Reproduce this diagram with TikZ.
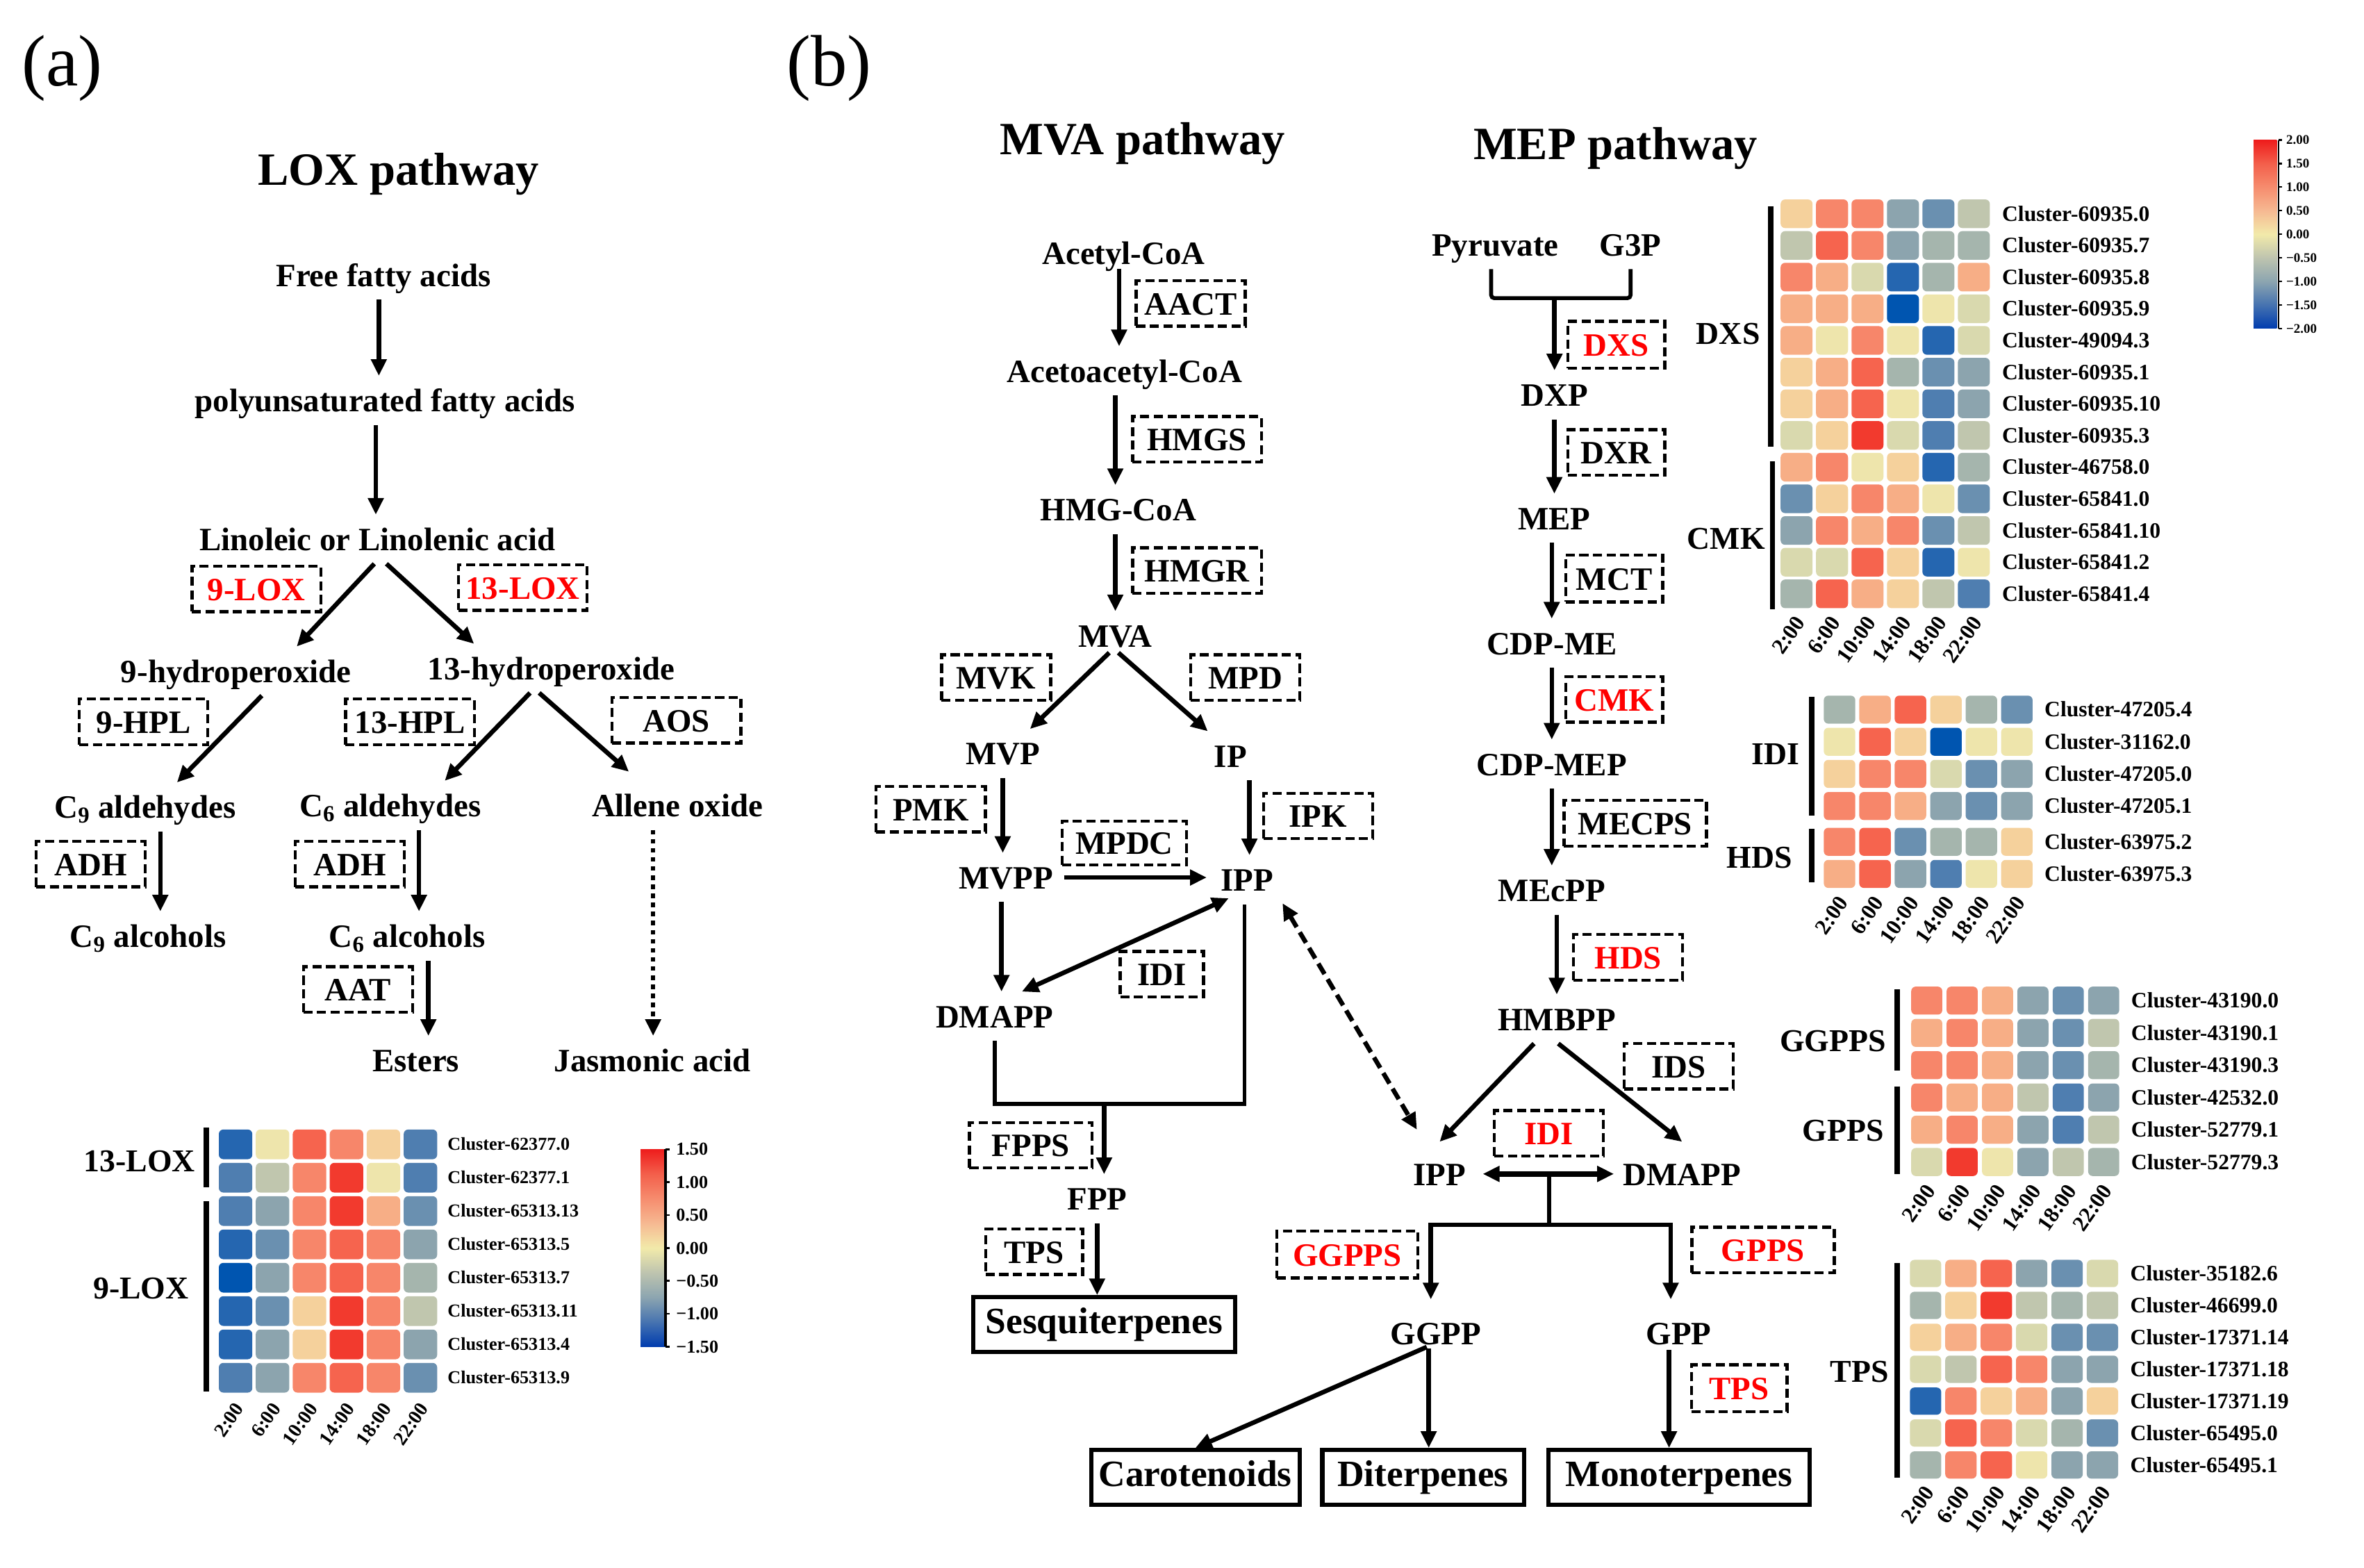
\documentclass[tikz,border=0pt]{standalone}
\usepackage{fontspec}
\setmainfont{Liberation Serif}
\usetikzlibrary{arrows.meta}

\definecolor{hm0}{HTML}{0055B0}
\definecolor{hm1}{HTML}{2566B0}
\definecolor{hm2}{HTML}{4F7EB0}
\definecolor{hm3}{HTML}{6A90B0}
\definecolor{hm4}{HTML}{8CA4AE}
\definecolor{hm5}{HTML}{A5B5AD}
\definecolor{hm6}{HTML}{C0C6AE}
\definecolor{hm7}{HTML}{D9D9AE}
\definecolor{hm8}{HTML}{EEE5AC}
\definecolor{hm9}{HTML}{F5D19C}
\definecolor{hm10}{HTML}{F7AE86}
\definecolor{hm11}{HTML}{F7866A}
\definecolor{hm12}{HTML}{F6644E}
\definecolor{hm13}{HTML}{F23A2E}

\definecolor{barA}{HTML}{003CAF}
\definecolor{barB}{HTML}{4673B0}
\definecolor{barC}{HTML}{8CA5B0}
\definecolor{barD}{HTML}{BEC4AF}
\definecolor{barE}{HTML}{F2EAAA}
\definecolor{barF}{HTML}{F6B992}
\definecolor{barG}{HTML}{F68C6E}
\definecolor{barH}{HTML}{F35F4B}
\definecolor{barI}{HTML}{EE1C1C}
\pgfdeclareverticalshading{hmbar}{100bp}{color(0bp)=(barA); color(25bp)=(barA);
  color(31.25bp)=(barB); color(37.5bp)=(barC); color(43.75bp)=(barD); color(50bp)=(barE);
  color(56.25bp)=(barF); color(62.5bp)=(barG); color(68.75bp)=(barH); color(75bp)=(barI);
  color(100bp)=(barI)}

\tikzset{
  lbl/.style={font=\fontsize{21.5}{24}\selectfont\bfseries, inner xsep=1pt, inner ysep=8.5pt,
    text height=15pt, text depth=0pt},
  enz/.style={draw, line width=2pt, dash pattern=on 6pt off 3pt, inner sep=0pt,
    font=\fontsize{21.5}{24}\selectfont\bfseries, minimum height=30pt,
    text height=15pt, text depth=0pt},
  enzred/.style={enz, text=red},
  prod/.style={draw, line width=2.8pt, inner sep=0pt, minimum height=36pt,
    font=\fontsize{24.5}{28}\selectfont\bfseries, text height=12pt, text depth=0pt},
  ttl/.style={font=\fontsize{30.5}{34}\selectfont\bfseries, text height=20pt, text depth=0pt},
  panel/.style={font=\fontsize{48}{52}\selectfont, text height=23pt, text depth=0pt},
  arr/.style={line width=3pt, -{Triangle[length=11pt,width=10pt]}},
  arrtwo/.style={line width=3pt, {Triangle[length=11pt,width=10pt]}-{Triangle[length=11pt,width=10pt]}},
  ln/.style={line width=2.6pt},
  grp/.style={font=\fontsize{21}{24}\selectfont\bfseries, inner sep=0pt, text height=14pt, text depth=0pt},
  grpbar/.style={line width=3.5pt},
  rowlbl/.style={font=\fontsize{14.5}{16}\selectfont\bfseries, inner sep=0pt, anchor=west,
    text height=9.6pt, text depth=0pt},
  collbl/.style={font=\fontsize{14.5}{16}\selectfont\bfseries, inner sep=0pt, anchor=east, rotate=55},
  barlbl/.style={font=\fontsize{8.7}{10}\selectfont\bfseries, inner sep=0pt, anchor=west,
    text height=5.8pt, text depth=0pt},
}

\begin{document}
\begin{tikzpicture}[x=1pt,y=-1pt]
\useasboundingbox (0,0) rectangle (1560,1034.2);

\node[panel] (pa) at (41,45) {(a)};
\node[panel] (pb) at (547,45) {(b)};

% LOX pathway
\node[ttl] (loxttl) at (263,112) {LOX pathway};
\node[lbl] (ffa) at (253,181.4) {Free fatty acids};
\node[lbl] (pufa) at (254,264.2) {polyunsaturated fatty acids};
\node[lbl] (lin) at (249,355.8) {Linoleic or Linolenic acid};
\node[enzred, minimum width=85pt] (lox9) at (169.2,388.6) {9-LOX};
\node[enzred, minimum width=85pt] (lox13) at (345,387.7) {13-LOX};
\node[lbl] (hp9) at (155.8,442.8) {9-hydroperoxide};
\node[lbl] (hp13) at (363.8,441) {13-hydroperoxide};
\node[enz, minimum width=85pt] (hpl9) at (94.7,476.3) {9-HPL};
\node[enz, minimum width=85pt] (hpl13) at (270.5,476.3) {13-HPL};
\node[enz, minimum width=85pt] (aos) at (446.4,475.3) {AOS};
\node[lbl] (c9ald) at (95.8,532.5) {C\textsubscript{9} aldehydes};
\node[lbl] (c6ald) at (257.5,531.4) {C\textsubscript{6} aldehydes};
\node[lbl] (allene) at (447,531.4) {Allene oxide};
\node[enz, minimum width=72pt] (adh9) at (59.8,570.2) {ADH};
\node[enz, minimum width=72pt] (adh6) at (230.8,570.2) {ADH};
\node[lbl] (c9alc) at (97.7,617.6) {C\textsubscript{9} alcohols};
\node[lbl] (c6alc) at (268.7,617.6) {C\textsubscript{6} alcohols};
\node[enz, minimum width=72pt] (aat) at (236.2,652.8) {AAT};
\node[lbl] (esters) at (274.4,699.7) {Esters};
\node[lbl] (jasm) at (430.5,699.7) {Jasmonic acid};

\draw[arr] ([xshift=-3pt]ffa.south) -- ([xshift=-3pt]ffa.south |- pufa.north);
\draw[arr] ([xshift=-6pt]pufa.south) -- ([xshift=-6pt]pufa.south |- lin.north);
\draw[arr] ([xshift=-2pt]lin.south) -- ([xshift=40pt]hp9.north);
\draw[arr] ([xshift=6pt]lin.south) -- ([xshift=-51pt]hp13.north);
\draw[arr] ([xshift=17pt]hp9.south) -- ([xshift=21pt]c9ald.north);
\draw[arr] ([xshift=-14pt]hp13.south) -- ([xshift=36pt]c6ald.north);
\draw[arr] ([xshift=-8pt]hp13.south) -- ([xshift=-32pt,yshift=6pt]allene.north);
\draw[arr] ([xshift=10pt]c9ald.south) -- ([xshift=10pt]c9ald.south |- c9alc.north);
\draw[arr] ([xshift=19pt]c6ald.south) -- ([xshift=19pt]c6ald.south |- c6alc.north);
\draw[arr] ([xshift=14pt]c6alc.south) -- ([xshift=14pt]c6alc.south |- esters.north);
\draw[arr, dash pattern=on 3pt off 3pt] ([xshift=-16pt]allene.south) -- ([xshift=-16pt]allene.south |- jasm.north);

% LOX heatmap
\foreach \row [count=\rr from 0] in {{1,8,12,11,9,2},{2,6,11,13,8,2},{2,4,11,13,10,3},{1,3,11,12,11,4},
    {0,4,11,12,11,5},{1,3,9,13,11,6},{1,4,9,13,11,4},{2,4,11,12,11,3}} {
  \foreach \vv [count=\cc from 0] in \row {
    \fill[fill=hm\vv, rounded corners=3pt] (144.4+24.4*\cc,745.3+22*\rr) rectangle ++(22.1,19.6);
  }
}
\foreach \cl [count=\rr from 0] in {62377.0,62377.1,65313.13,65313.5,65313.7,65313.11,65313.4,65313.9}
  \node[rowlbl, font=\fontsize{12}{14}\selectfont\bfseries, text height=8pt] (loxr\rr) at (295.2,755.1+22*\rr) {Cluster-\cl};
\foreach \tm [count=\cc from 0] in {2:00,6:00,10:00,14:00,18:00,22:00}
  \node[collbl, font=\fontsize{13}{15}\selectfont\bfseries] (loxc\cc) at (158+24.4*\cc,927) {\tm};
\draw[grpbar] (136.2,744) -- (136.2,783.6);
\draw[grpbar] (136.2,792.6) -- (136.2,918.4);
\node[grp] (g13lox) at (92,766) {13-LOX};
\node[grp] (g9lox) at (93,850) {9-LOX};
\shade[shading=hmbar] (422.7,758.3) rectangle (439.1,888.6);
\draw[line width=1.5pt] (439.1,758.3) -- (439.1,888.6);
\foreach \tk [count=\ii from 0] in {1.50,1.00,0.50,0.00,−0.50,−1.00,−1.50} {
  \draw[line width=1.2pt] (439.1,758.3+21.72*\ii) -- ++(3,0);
  \node[barlbl, font=\fontsize{12}{14}\selectfont\bfseries, text height=8pt] (loxt\ii) at (446,758.3+21.72*\ii) {\tk};
}

% MVA pathway
\node[ttl] (mvattl) at (754,92) {MVA pathway};
\node[lbl] (acetyl) at (741.5,167) {Acetyl-CoA};
\node[enz, minimum width=72pt] (aact) at (785.7,200.2) {AACT};
\node[lbl] (acetoa) at (742,244.7) {Acetoacetyl-CoA};
\node[enz, minimum width=85pt] (hmgs) at (789.9,289.8) {HMGS};
\node[lbl] (hmgcoa) at (738,336.3) {HMG-CoA};
\node[enz, minimum width=85pt] (hmgr) at (789.9,376.4) {HMGR};
\node[lbl] (mva) at (736,419.5) {MVA};
\node[enz, minimum width=72pt] (mvk) at (657.3,447) {MVK};
\node[enz, minimum width=72pt] (mpd) at (821.8,447) {MPD};
\node[lbl] (mvp) at (661.7,497.2) {MVP};
\node[lbl] (ip) at (812,498.7) {IP};
\node[enz, minimum width=72pt] (pmk) at (614.2,534) {PMK};
\node[enz, minimum width=72pt] (ipk) at (869.8,538.4) {IPK};
\node[enz, minimum width=82pt, minimum height=29pt] (mpdc) at (741.9,556.2) {MPDC};
\node[lbl] (mvpp) at (663.9,579) {MVPP};
\node[lbl] (ipp) at (822.8,580.5) {IPP};
\node[enz, minimum width=55pt] (idi) at (766.7,642.8) {IDI};
\node[lbl] (dmapp) at (656.3,670.5) {DMAPP};
\node[enz, minimum width=81pt] (fpps) at (680.2,755.7) {FPPS};
\node[lbl] (fpp) at (724,791) {FPP};
\node[enz, minimum width=64pt] (tps) at (682.4,826) {TPS};
\node[prod, minimum width=173pt] (sesq) at (728.6,874) {Sesquiterpenes};

\draw[arr] ([xshift=-3pt,yshift=6pt]acetyl.south) -- ([xshift=-3pt]acetyl.south |- acetoa.north);
\draw[arr] ([xshift=-6pt]acetoa.south) -- ([xshift=-6pt]acetoa.south |- hmgcoa.north);
\draw[arr] ([xshift=-2pt]hmgcoa.south) -- ([xshift=-2pt]hmgcoa.south |- mva.north);
\draw[arr] ([xshift=-4pt,yshift=5pt]mva.south) -- ([xshift=18pt]mvp.north);
\draw[arr] ([xshift=2pt,yshift=5pt]mva.south) -- ([xshift=-15pt]ip.north);
\draw[arr] (mvp.south) -- (mvp.south |- mvpp.north);
\draw[arr] ([xshift=12.5pt]ip.south) -- ([xshift=12.5pt]ip.south |- ipp.north);
\draw[arr] ([xshift=6pt]mvpp.east) -- ([xshift=-8pt]ipp.west |- mvpp.east);
\draw[arr] ([xshift=-3pt]mvpp.south) -- ([xshift=-3pt]mvpp.south |- dmapp.north);
\draw[arrtwo] ([xshift=-12pt,yshift=4pt]ipp.south) -- ([xshift=18pt]dmapp.north);
\coordinate (fppjoin) at (728.6,728.4);
\draw[ln] (dmapp.south) |- (fppjoin) -| ([xshift=-1.6pt]ipp.south);
\draw[arr] (fppjoin) -- (fppjoin |- fpp.north);
\draw[arr] (fpp.south) -- (fpp.south |- sesq.north);

% MEP pathway
\node[ttl] (mepttl) at (1066,95) {MEP pathway};
\node[lbl] (pyr) at (986.7,161.4) {Pyruvate};
\node[lbl] (g3p) at (1076,161.4) {G3P};
\coordinate (pyrjoin) at (1025.8,196.7);
\draw[ln, rounded corners=2pt] ([xshift=-2.7pt]pyr.south) |- (pyrjoin) -| (g3p.south);
\node[enzred, minimum width=64pt, minimum height=31pt] (dxs) at (1066.6,227.5) {DXS};
\node[lbl] (dxp) at (1025.7,260.6) {DXP};
\node[enz, minimum width=64pt] (dxr) at (1066.6,298.5) {DXR};
\node[lbl] (mep) at (1025.7,342) {MEP};
\node[enz, minimum width=64pt, minimum height=31pt] (mct) at (1065.2,381.7) {MCT};
\node[lbl] (cdpme) at (1024,424.4) {CDP-ME};
\node[enzred, minimum width=64pt] (cmk) at (1065.2,461.5) {CMK};
\node[lbl] (cdpmep) at (1024,504.2) {CDP-MEP};
\node[enz, minimum width=94pt] (mecps) at (1079.1,543.2) {MECPS};
\node[lbl] (mecpp) at (1024,587.4) {MEcPP};
\node[enzred, minimum width=72pt] (hds) at (1074.4,631.7) {HDS};
\node[lbl] (hmbpp) at (1027.3,672.4) {HMBPP};
\node[enz, minimum width=72pt] (ids) at (1107.7,703.5) {IDS};
\node[enzred, minimum width=72pt] (idi2) at (1022.1,747.8) {IDI};
\node[lbl] (ipp2) at (950,774.6) {IPP};
\node[lbl] (dmapp2) at (1110,774.6) {DMAPP};
\node[enzred, minimum width=93pt, minimum height=31pt] (ggpps) at (889.1,827.8) {GGPPS};
\node[enzred, minimum width=94pt] (gpps) at (1163.4,824.7) {GPPS};
\node[lbl] (ggpp) at (947.5,879.6) {GGPP};
\node[lbl] (gpp) at (1107.8,879.6) {GPP};
\node[enzred, minimum width=63pt, minimum height=31pt] (tps2) at (1147.7,916) {TPS};
\node[prod, minimum width=137.5pt] (carot) at (788.8,974.8) {Carotenoids};
\node[prod, minimum width=133pt] (diterp) at (939.1,974.8) {Diterpenes};
\node[prod, minimum width=172.7pt] (mono) at (1108,974.8) {Monoterpenes};

\draw[arr] (pyrjoin) -- (pyrjoin |- dxp.north);
\draw[arr] (dxp.south) -- (dxp.south |- mep.north);
\draw[arr] ([xshift=-1.7pt]mep.south) -- ([xshift=-1.7pt]mep.south |- cdpme.north);
\draw[arr] (cdpme.south) -- (cdpme.south |- cdpmep.north);
\draw[arr] (cdpmep.south) -- (cdpmep.south |- mecpp.north);
\draw[arr] ([xshift=3.3pt]mecpp.south) -- ([xshift=3.3pt]mecpp.south |- hmbpp.north);
\draw[arr] ([xshift=-15pt]hmbpp.south) -- ([yshift=5pt]ipp2.north);
\draw[arr] ([xshift=1pt]hmbpp.south) -- ([yshift=5pt]dmapp2.north);
\draw[arrtwo, line width=3.5pt] ([xshift=10pt]ipp2.east) -- ([xshift=-5pt]dmapp2.west);
\draw[arrtwo, dash pattern=on 8pt off 4pt] ([xshift=5pt,yshift=-15.5pt]ipp.east) -- ([xshift=-15pt,yshift=13pt]ipp2.north);
\coordinate (ippmid) at (1022.3,774.6);
\coordinate (gjoin) at (1022.3,808.1);
\draw[ln] (ippmid) -- (gjoin);
\draw[arr] (gjoin) -| ([xshift=-3.3pt,yshift=6pt]ggpp.north);
\draw[arr] (gjoin) -| ([xshift=-5.3pt,yshift=6pt]gpp.north);
\draw[arr] ([xshift=-6pt,yshift=7pt]ggpp.south) -- (carot.north);
\draw[arr] ([xshift=-4.7pt,yshift=6pt]ggpp.south) -- ([xshift=-4.7pt]ggpp.south |- diterp.north);
\draw[arr] ([xshift=-6.4pt,yshift=5pt]gpp.south) -- ([xshift=-6.4pt]gpp.south |- mono.north);

% DXS / CMK heatmap
\foreach \row [count=\rr from 0] in {{9,11,11,4,3,6},{6,12,11,4,5,5},{11,10,7,1,5,10},{10,10,10,0,8,7},
    {10,8,11,8,1,7},{9,10,12,5,3,4},{9,10,12,8,2,4},{7,9,13,7,2,6},{10,11,8,9,1,5},
    {3,9,11,10,8,3},{4,11,10,11,3,6},{7,7,12,9,1,8},{5,12,10,9,6,2}} {
  \foreach \vv [count=\cc from 0] in \row {
    \fill[fill=hm\vv, rounded corners=3pt] (1175+23.4*\cc,131.6+20.9*\rr) rectangle ++(21.1,18.9);
  }
}
\foreach \cl [count=\rr from 0] in {60935.0,60935.7,60935.8,60935.9,49094.3,60935.1,60935.10,
    60935.3,46758.0,65841.0,65841.10,65841.2,65841.4}
  \node[rowlbl] (dxsr\rr) at (1321,141.05+20.9*\rr) {Cluster-\cl};
\foreach \tm [count=\cc from 0] in {2:00,6:00,10:00,14:00,18:00,22:00}
  \node[collbl] (dxsc\cc) at (1188+23.4*\cc,408) {\tm};
\draw[grpbar] (1168.6,136) -- (1168.6,294.6);
\draw[grpbar] (1169.6,304.6) -- (1169.6,402.2);
\node[grp] (gdxs) at (1140.4,220) {DXS};
\node[grp] (gcmk) at (1139,355.3) {CMK};

% IDI / HDS heatmap
\foreach \row [count=\rr from 0] in {{5,10,12,9,5,3},{8,12,9,0,8,8},{9,11,11,7,3,4},{11,11,10,4,3,4},
    {11,12,3,5,5,9},{10,12,4,2,8,9}} {
  \pgfmathsetmacro\yy{459+21.2*\rr+2.4*(\rr>3)}
  \foreach \vv [count=\cc from 0] in \row {
    \fill[fill=hm\vv, rounded corners=3pt] (1203.5+23.4*\cc,\yy) rectangle ++(20.8,18.5);
  }
}
\foreach \cl [count=\rr from 0] in {47205.4,31162.0,47205.0,47205.1,63975.2,63975.3} {
  \pgfmathsetmacro\yy{468.25+21.2*\rr+2.4*(\rr>3)}
  \node[rowlbl] (idir\rr) at (1349,\yy) {Cluster-\cl};
}
\foreach \tm [count=\cc from 0] in {2:00,6:00,10:00,14:00,18:00,22:00}
  \node[collbl] (idic\cc) at (1216.4+23.4*\cc,593) {\tm};
\draw[grpbar] (1195.6,459.7) -- (1195.6,538);
\draw[grpbar] (1195.6,546.9) -- (1195.6,582);
\node[grp] (gidi) at (1171.6,497.6) {IDI};
\node[grp] (ghds) at (1161,565.9) {HDS};

% GGPPS / GPPS heatmap
\foreach \row [count=\rr from 0] in {{11,11,10,4,3,4},{10,11,10,4,3,6},{11,11,10,4,3,5},{11,10,10,6,2,4},
    {10,11,10,4,2,6},{7,13,8,4,6,5}} {
  \foreach \vv [count=\cc from 0] in \row {
    \fill[fill=hm\vv, rounded corners=3pt] (1261.2+23.35*\cc,651+21.3*\rr) rectangle ++(20.5,18.5);
  }
}
\foreach \cl [count=\rr from 0] in {43190.0,43190.1,43190.3,42532.0,52779.1,52779.3}
  \node[rowlbl] (ggr\rr) at (1406.2,660.25+21.3*\rr) {Cluster-\cl};
\foreach \tm [count=\cc from 0] in {2:00,6:00,10:00,14:00,18:00,22:00}
  \node[collbl] (ggc\cc) at (1273.9+23.35*\cc,783) {\tm};
\draw[grpbar] (1251.8,652.9) -- (1251.8,706.5);
\draw[grpbar] (1251.8,716.8) -- (1251.8,774.6);
\node[grp] (gggpps) at (1209.6,687) {GGPPS};
\node[grp] (ggpps2) at (1216.3,746) {GPPS};

% TPS heatmap
\foreach \row [count=\rr from 0] in {{7,10,12,4,3,7},{5,9,13,6,5,6},{9,10,11,7,3,3},{7,6,12,11,4,4},
    {1,11,9,10,4,9},{7,12,11,7,5,3},{5,11,12,8,4,4}} {
  \foreach \vv [count=\cc from 0] in \row {
    \fill[fill=hm\vv, rounded corners=3pt] (1260.3+23.35*\cc,831.3+21.06*\rr) rectangle ++(20.7,18);
  }
}
\foreach \cl [count=\rr from 0] in {35182.6,46699.0,17371.14,17371.18,17371.19,65495.0,65495.1}
  \node[rowlbl] (tpsr\rr) at (1405.6,840.3+21.06*\rr) {Cluster-\cl};
\foreach \tm [count=\cc from 0] in {2:00,6:00,10:00,14:00,18:00,22:00}
  \node[collbl] (tpsc\cc) at (1273.1+23.35*\cc,982) {\tm};
\draw[grpbar] (1252,833.6) -- (1252,975);
\node[grp] (gtps) at (1227,905) {TPS};

% colour bar
\shade[shading=hmbar] (1487.1,92.4) rectangle (1502.4,216.7);
\draw[line width=1.2pt] (1503.6,92.4) -- (1503.6,216.7);
\foreach \tk [count=\ii from 0] in {2.00,1.50,1.00,0.50,0.00,−0.50,−1.00,−1.50,−2.00} {
  \draw[line width=1pt] (1503.6,92.4+15.54*\ii) -- ++(2.5,0);
  \node[barlbl] (mept\ii) at (1508.5,92.4+15.54*\ii) {\tk};
}
\end{tikzpicture}
\end{document}
